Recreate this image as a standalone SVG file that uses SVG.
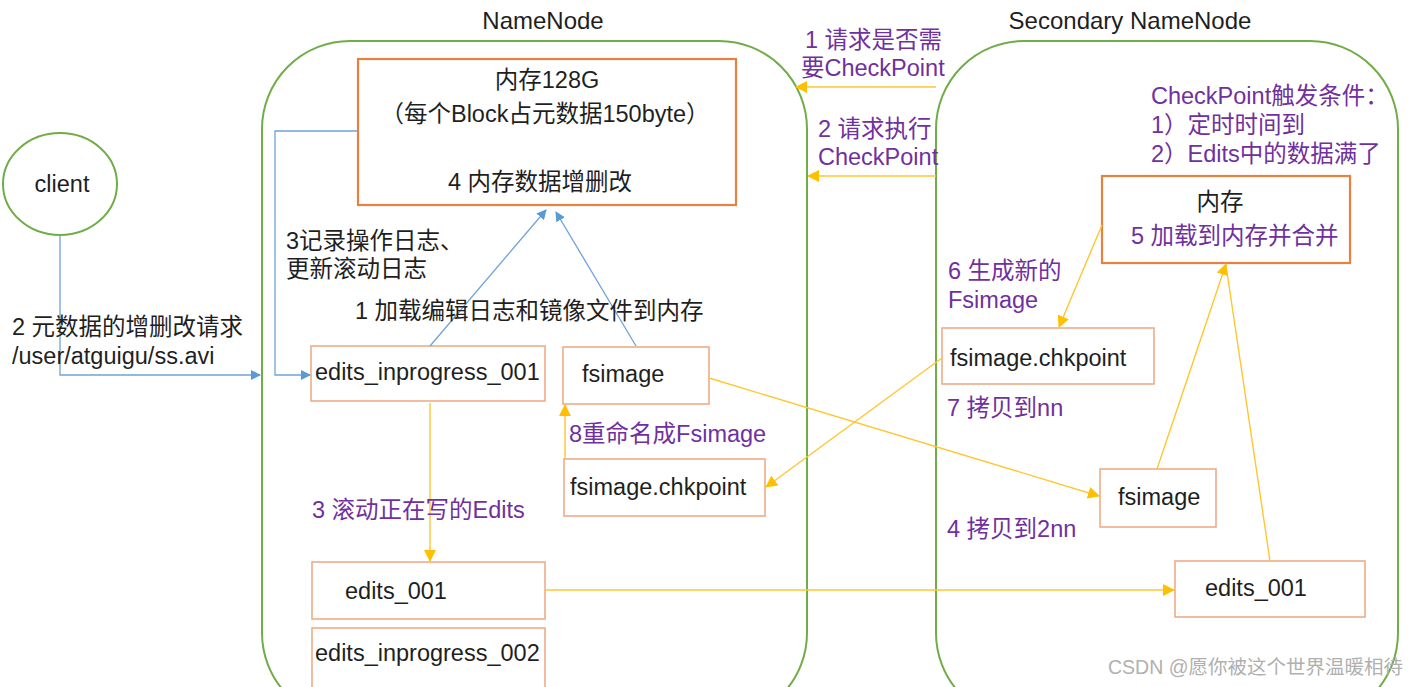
<svg xmlns="http://www.w3.org/2000/svg" width="1416" height="687" viewBox="0 0 1416 687">
<defs>
<style>
text{font-family:"Liberation Sans","Noto Sans CJK SC",sans-serif;font-size:23.5px;fill:#1f1f1f}
.p{fill:#7030A0}
.title{font-size:24px}
.wm{fill:#b0b0b0;font-size:19.5px}
.cont{fill:none;stroke:#70AD47;stroke-width:2}
.mem{fill:#fff;stroke:#E8803F;stroke-width:2.2}
.box{fill:#fff;stroke:#EEAD88;stroke-width:1.6}
.bl{fill:none;stroke:#6FA3D6;stroke-width:1.3}
.yl{fill:none;stroke:#FFC631;stroke-width:1.4}
</style>
<marker id="ab" markerWidth="10" markerHeight="10" refX="9" refY="5" orient="auto" markerUnits="userSpaceOnUse" viewBox="0 0 10 10"><path d="M0,0 L10,5 L0,10 Z" fill="#5B9BD5"/></marker>
<marker id="ay" markerWidth="12" markerHeight="12" refX="11" refY="6" orient="auto" markerUnits="userSpaceOnUse" viewBox="0 0 12 12"><path d="M0,0 L12,6 L0,12 Z" fill="#FFC000"/></marker>
</defs>
<rect width="1416" height="687" fill="#fff"/>

<g id="namenode">
<rect class="cont" x="262" y="41" width="545" height="680" rx="88"/>
<text class="title" x="543" y="29" text-anchor="middle">NameNode</text>
</g>
<g id="secondary">
<rect class="cont" x="936" y="41" width="462" height="680" rx="88"/>
<text class="title" x="1130" y="29" text-anchor="middle">Secondary NameNode</text>
</g>

<g id="client">
<ellipse cx="60" cy="184" rx="57" ry="51" fill="#fff" stroke="#70AD47" stroke-width="2"/>
<text x="62" y="192" text-anchor="middle">client</text>
</g>

<g id="nn-mem">
<rect class="mem" x="358" y="59" width="378" height="146"/>
<text x="547" y="88" text-anchor="middle">内存128G</text>
<text x="545" y="122" text-anchor="middle">（每个Block占元数据150byte）</text>
<text x="540" y="190" text-anchor="middle">4 内存数据增删改</text>
</g>
<g id="nn-edits-inprogress-001">
<rect class="box" x="311" y="346" width="234" height="55"/>
<text x="315" y="380">edits_inprogress_001</text>
</g>
<g id="nn-fsimage">
<rect class="box" x="563" y="347" width="146" height="57"/>
<text x="582" y="382">fsimage</text>
</g>
<g id="nn-chkpoint">
<rect class="box" x="564" y="459" width="201" height="57"/>
<text x="570" y="495">fsimage.chkpoint</text>
</g>
<g id="nn-edits-001">
<rect class="box" x="312" y="562" width="233" height="57"/>
<text x="345" y="599">edits_001</text>
</g>
<g id="nn-edits-inprogress-002">
<rect class="box" x="312" y="628" width="233" height="60"/>
<text x="315" y="661">edits_inprogress_002</text>
</g>

<g id="snn-mem">
<rect class="mem" x="1102" y="176" width="248" height="87"/>
<text x="1220" y="210" text-anchor="middle">内存</text>
<text class="p" x="1131" y="244">5 加载到内存并合并</text>
</g>
<g id="snn-chkpoint">
<rect class="box" x="942" y="328" width="212" height="56"/>
<text x="950" y="366">fsimage.chkpoint</text>
</g>
<g id="snn-fsimage">
<rect class="box" x="1100" y="469" width="116" height="58"/>
<text x="1118" y="505">fsimage</text>
</g>
<g id="snn-edits-001">
<rect class="box" x="1175" y="561" width="190" height="56"/>
<text x="1205" y="596">edits_001</text>
</g>

<g id="connectors">
<polyline class="bl" points="60,235 60,375 260,375" marker-end="url(#ab)"/>
<polyline class="bl" points="358,131 275,131 275,375 310,375" marker-end="url(#ab)"/>
<line class="bl" x1="430" y1="346" x2="546" y2="210" marker-end="url(#ab)"/>
<line class="bl" x1="636" y1="346" x2="556" y2="212" marker-end="url(#ab)"/>
<line class="yl" x1="430" y1="403" x2="430" y2="561" marker-end="url(#ay)"/>
<line class="yl" x1="565" y1="459" x2="565" y2="405" marker-end="url(#ay)"/>
<line class="yl" x1="545" y1="590" x2="1174" y2="590" marker-end="url(#ay)"/>
<line class="yl" x1="936" y1="87" x2="796" y2="87" marker-end="url(#ay)"/>
<line class="yl" x1="936" y1="176" x2="808" y2="176" marker-end="url(#ay)"/>
<line class="yl" x1="1102" y1="225" x2="1059" y2="327" marker-end="url(#ay)"/>
<line class="yl" x1="942" y1="358" x2="766" y2="487" marker-end="url(#ay)"/>
<line class="yl" x1="709" y1="378" x2="1099" y2="496" marker-end="url(#ay)"/>
<line class="yl" x1="1157" y1="469" x2="1226" y2="264" marker-end="url(#ay)"/>
<line class="yl" x1="1270" y1="561" x2="1227" y2="272"/>
</g>

<g id="labels">
<text x="12" y="335">2 元数据的增删改请求</text>
<text x="12" y="364">/user/atguigu/ss.avi</text>
<text x="286" y="249">3记录操作日志、</text>
<text x="286" y="277">更新滚动日志</text>
<text x="355" y="319">1 加载编辑日志和镜像文件到内存</text>
<text class="p" x="569" y="442">8重命名成Fsimage</text>
<text class="p" x="312" y="518">3 滚动正在写的Edits</text>
<text class="p" x="805" y="48">1 请求是否需</text>
<text class="p" x="801" y="76">要CheckPoint</text>
<text class="p" x="818" y="137">2 请求执行</text>
<text class="p" x="818" y="165">CheckPoint</text>
<text class="p" x="1151" y="104">CheckPoint触发条件：</text>
<text class="p" x="1151" y="133">1）定时时间到</text>
<text class="p" x="1151" y="162">2）Edits中的数据满了</text>
<text class="p" x="948" y="279">6 生成新的</text>
<text class="p" x="948" y="308">Fsimage</text>
<text class="p" x="947" y="416">7 拷贝到nn</text>
<text class="p" x="947" y="537">4 拷贝到2nn</text>
<text class="wm" x="1108" y="674">CSDN @愿你被这个世界温暖相待</text>
</g>
</svg>
